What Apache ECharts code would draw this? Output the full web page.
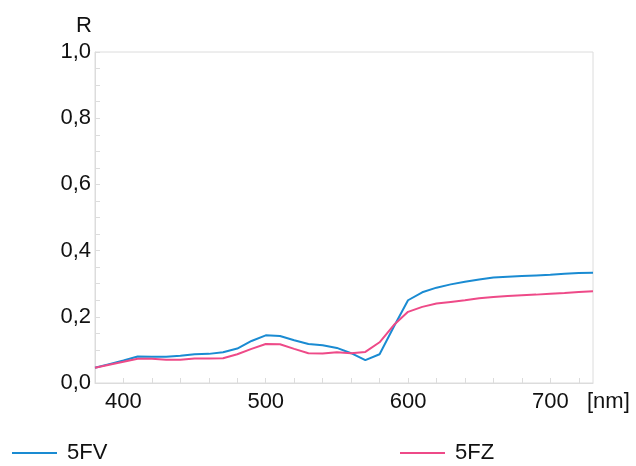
<!DOCTYPE html>
<html>
<head>
<meta charset="utf-8">
<script src="https://cdn.jsdelivr.net/npm/echarts@6/dist/echarts.min.js"></script>
<style>
  html, body { margin: 0; padding: 0; background: #fff; }
  #chart { width: 636px; height: 466px; }
</style>
</head>
<body>
<div id="chart"></div>
<script>
// wavelengths (nm)
const wavelengths = [380, 390, 400, 410, 420, 430, 440, 450, 460, 470, 480, 490, 500, 510, 520, 530, 540, 550, 560,
  570, 580, 590, 600, 610, 620, 630, 640, 650, 660, 670, 680, 690, 700, 710, 720, 730]

// reflectance
const r5FV = [0.046, 0.057, 0.068, 0.080, 0.079, 0.079, 0.082, 0.087, 0.088, 0.093, 0.104, 0.127, 0.144, 0.142, 0.129,
  0.118, 0.114, 0.106, 0.090, 0.069, 0.087, 0.170, 0.250, 0.274, 0.288, 0.298, 0.306, 0.313, 0.319, 0.321, 0.323,
  0.325, 0.327, 0.330, 0.332, 0.333]
const r5FZ = [0.046, 0.055, 0.064, 0.073, 0.073, 0.070, 0.070, 0.074, 0.074, 0.075, 0.087, 0.103, 0.118, 0.117, 0.103,
  0.090, 0.089, 0.093, 0.090, 0.094, 0.123, 0.175, 0.215, 0.230, 0.240, 0.245, 0.250, 0.256, 0.260, 0.263, 0.265,
  0.267, 0.270, 0.272, 0.275, 0.277]

const chart = echarts.init(document.getElementById('chart'))
const font = '"Liberation Sans", Arial, Helvetica, sans-serif'
const gray = '#dcdcdc'
const ink = '#111'

const pairs = arr => wavelengths.map((w, i) => [w, arr[i]])

const legendBase = {
  top: 442, padding: 0,
  icon: 'rect', itemWidth: 45, itemHeight: 2,
  textStyle: { fontSize: 22, color: ink, fontFamily: font, padding: [0, 0, 0, 5] }
}

const option = {
  backgroundColor: '#fff',
  animation: false,
  textStyle: { fontFamily: font },
  grid: {
    left: 95, right: 43, top: 52, bottom: 83,
    show: true, borderColor: gray, borderWidth: 1
  },
  legend: [
    Object.assign({ data: ['5FV'], left: 12 }, legendBase),
    Object.assign({ data: ['5FZ'], left: 400 }, legendBase)
  ],
  xAxis: {
    type: 'value',
    min: 380, max: 730, interval: 20,
    name: '[nm]',
    nameLocation: 'end',
    nameGap: -6,
    nameTextStyle: { fontSize: 22, color: ink, align: 'left', verticalAlign: 'top', padding: [8, 0, 0, 0] },
    axisLine: { show: true, lineStyle: { color: gray } },
    axisTick: { show: true, inside: true, length: 5, lineStyle: { color: gray } },
    axisLabel: {
      fontSize: 22, color: ink, margin: 8, showMaxLabel: false,
      formatter: v => (v % 100 === 0 ? String(v) : '')
    },
    splitLine: { show: false }
  },
  yAxis: {
    type: 'value',
    min: 0, max: 1, interval: 0.05,
    name: 'R',
    nameLocation: 'end',
    nameGap: 15,
    nameTextStyle: { fontSize: 22, color: ink, align: 'right', padding: [0, 3, 0, 0] },
    axisLine: { show: true, lineStyle: { color: gray } },
    axisTick: { show: true, inside: true, length: 5, lineStyle: { color: gray } },
    axisLabel: {
      fontSize: 22, color: ink, margin: 4,
      formatter: v => (Math.round(v * 100) % 20 === 0 ? v.toFixed(1).replace('.', ',') : '')
    },
    splitLine: { show: false }
  },
  series: [
    {
      name: '5FV', type: 'line', symbol: 'none',
      lineStyle: { color: '#1a8bd2', width: 2 },
      itemStyle: { color: '#1a8bd2' },
      data: pairs(r5FV)
    },
    {
      name: '5FZ', type: 'line', symbol: 'none',
      lineStyle: { color: '#ee4a88', width: 2 },
      itemStyle: { color: '#ee4a88' },
      data: pairs(r5FZ)
    }
  ]
}

chart.setOption(option)
</script>
</body>
</html>
